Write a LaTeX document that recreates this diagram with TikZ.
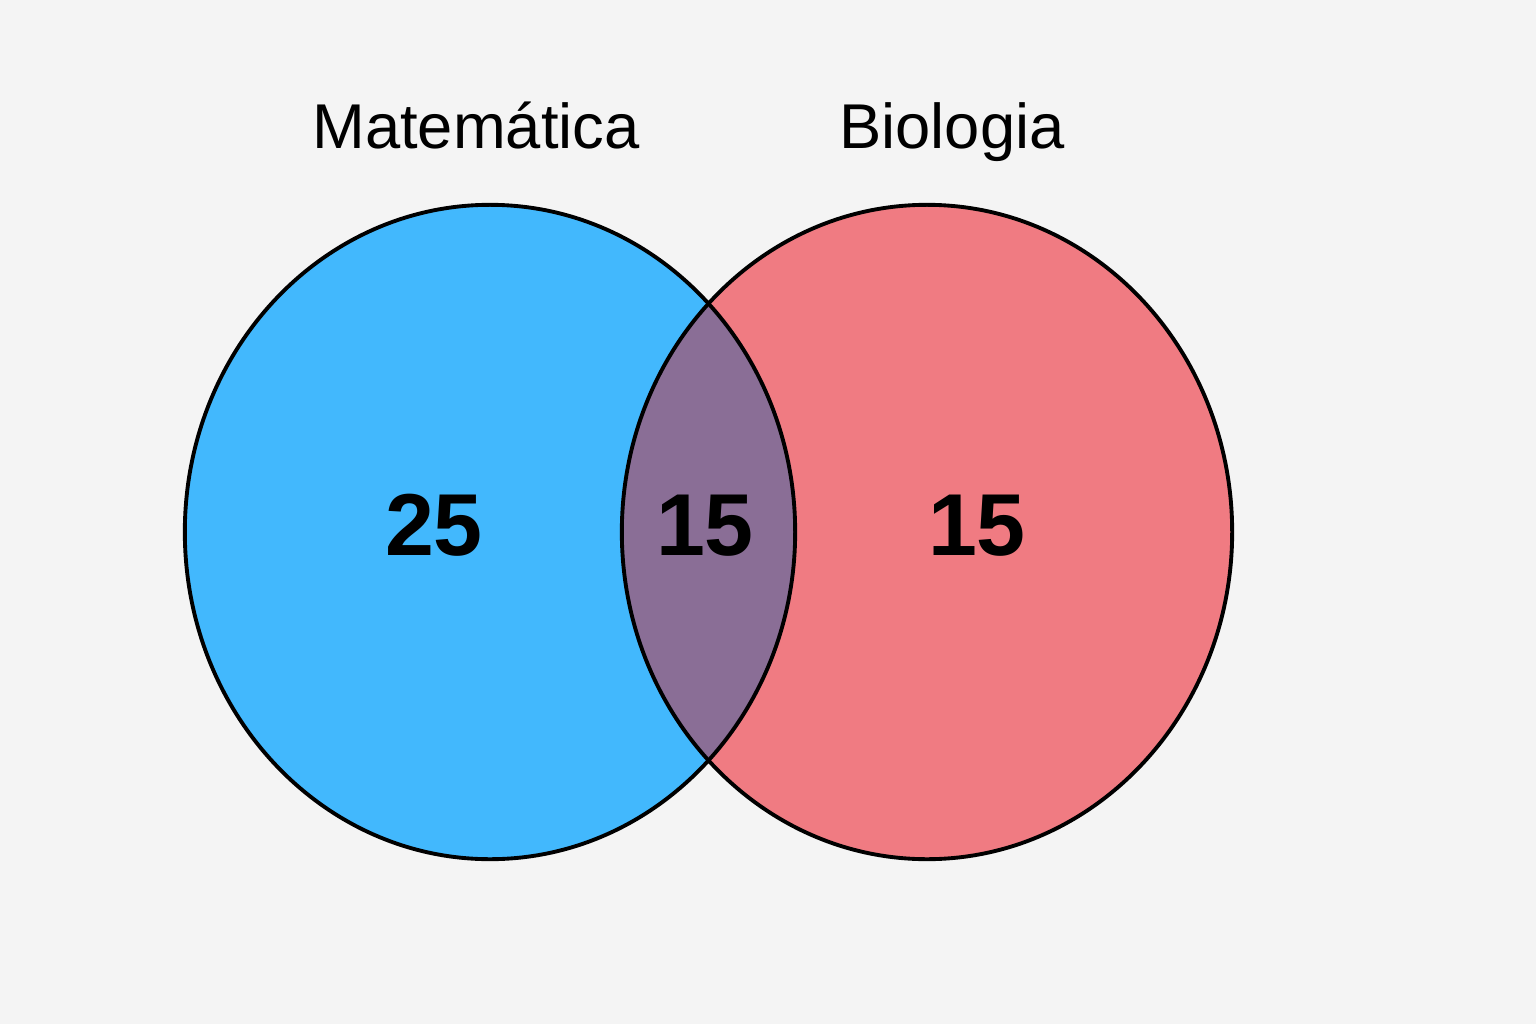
\documentclass[tikz,border=0pt]{standalone}
\usepackage{fontspec}
\setmainfont{Liberation Sans}
\definecolor{vnback}{HTML}{F4F4F4}
\definecolor{vnblue}{HTML}{42B8FD}
\definecolor{vnred}{HTML}{F07B82}
\definecolor{vnboth}{HTML}{8A6E96}
\begin{document}
\begin{tikzpicture}[
  x=0.01cm, y=-0.01cm,
  setline/.style={draw=black, line width=1.1pt},
  setname/.style={anchor=base, font=\fontsize{18}{22}\selectfont, text=black},
  count/.style={anchor=base, font=\fontsize{25}{30}\selectfont\bfseries, text=black}
]
  % background and page size
  \fill[vnback] (0,0) rectangle (1536,1024);
  \useasboundingbox (0,0) rectangle (1536,1024);

  % set centres
  \coordinate (mat) at (490,532);
  \coordinate (bio) at (927,532);

  % fills
  \fill[vnblue] (mat) ellipse [x radius=3.05cm, y radius=3.27cm];
  \fill[vnred] (bio) ellipse [x radius=3.05cm, y radius=3.27cm];
  \begin{scope}
    \clip (mat) ellipse [x radius=3.05cm, y radius=3.27cm];
    \fill[vnboth] (bio) ellipse [x radius=3.05cm, y radius=3.27cm];
  \end{scope}

  % outlines
  \draw[setline] (mat) ellipse [x radius=3.05cm, y radius=3.27cm];
  \draw[setline] (bio) ellipse [x radius=3.05cm, y radius=3.27cm];

  % labels
  \node[setname] (matname) at (476,148) {Matemática};
  \node[setname] (bioname) at (952,148) {Biologia};
  \node[count] (onlymat) at (434,555) {25};
  \node[count] (matbio) at (705,555) {15};
  \node[count] (onlybio) at (977,555) {15};
\end{tikzpicture}
\end{document}
